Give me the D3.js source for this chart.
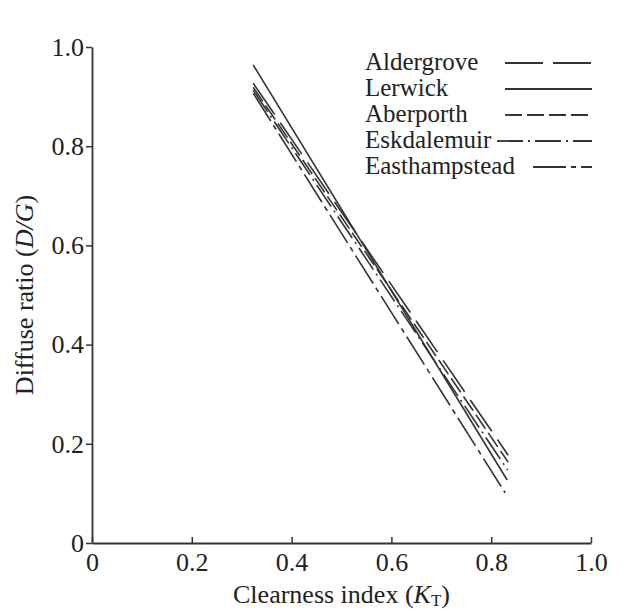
<!DOCTYPE html>
<html>
<head>
<meta charset="utf-8">
<script src="https://cdn.jsdelivr.net/npm/d3@7"></script>
<style>
  body { margin: 0; background: #fff; }
  text { font-family: "Liberation Serif", "DejaVu Serif", serif; fill: #222; }
</style>
</head>
<body>
<svg id="chart"></svg>
<script>
// stations and their fitted lines (D/G against K_T)
const stations = ["Aldergrove", "Lerwick", "Aberporth", "Eskdalemuir", "Easthampstead"];
const kStart = [0.323, 0.323, 0.323, 0.323, 0.323];
const kEnd = [0.834, 0.832, 0.834, 0.833, 0.828];
const dgStart = [0.927, 0.964, 0.919, 0.913, 0.907];
const dgEnd = [0.177, 0.127, 0.163, 0.147, 0.101];
const dashes = ["38,10", null, "17,5", "26,5,2,5", "33,5,5,5"];
const xTicks = [0, 0.2, 0.4, 0.6, 0.8, 1.0];
const yTicks = [0, 0.2, 0.4, 0.6, 0.8, 1.0];

const width = 624, height = 610;
const margin = {top: 47, left: 92, bottom: 67, right: 33};
const iwidth = width - margin.left - margin.right;
const iheight = height - margin.top - margin.bottom;

const svg = d3.select("#chart").attr("width", width).attr("height", height);
const g = svg.append("g").attr("transform", `translate(${margin.left},${margin.top})`);

const x = d3.scaleLinear().domain([0, 1]).range([0, iwidth]);
const y = d3.scaleLinear().domain([0, 1]).range([iheight, 0]);

const fmt = d => d === 0 ? "0" : d3.format(".1f")(d);

const xAxis = g.append("g")
  .attr("transform", `translate(0,${iheight})`)
  .call(d3.axisBottom(x).tickValues(xTicks).tickFormat(fmt).tickSizeInner(-6).tickSizeOuter(0).tickPadding(10));
const yAxis = g.append("g")
  .call(d3.axisLeft(y).tickValues(yTicks).tickFormat(fmt).tickSizeInner(6).tickSizeOuter(0).tickPadding(2));

[xAxis, yAxis].forEach(a => {
  a.select(".domain").attr("stroke", "#333").attr("stroke-width", 1.8);
  a.selectAll(".tick line").attr("stroke", "#333").attr("stroke-width", 1.5);
  a.selectAll(".tick text").attr("font-size", 26).attr("fill", "#222")
    .attr("font-family", "Liberation Serif, serif");
});

// series lines
const line = d3.line().x(d => x(d[0])).y(d => y(d[1]));
stations.forEach((s, i) => {
  g.append("path")
    .datum([[kStart[i], dgStart[i]], [kEnd[i], dgEnd[i]]])
    .attr("d", line)
    .attr("fill", "none")
    .attr("stroke", "#333")
    .attr("stroke-width", 1.6)
    .attr("stroke-dasharray", dashes[i]);
});

// legend
const legend = svg.append("g").attr("transform", "translate(365,63)");
const sampleStart = [140, 140, 140, 132, 168];
stations.forEach((s, i) => {
  const row = legend.append("g").attr("transform", `translate(0,${i * 26})`);
  row.append("text").attr("x", 0).attr("y", 7).attr("font-size", 25).text(s);
  row.append("line")
    .attr("x1", sampleStart[i]).attr("x2", 227).attr("y1", 0).attr("y2", 0)
    .attr("stroke", "#333").attr("stroke-width", 1.8)
    .attr("stroke-dasharray", dashes[i]);
});

// axis titles
const xt = svg.append("text")
  .attr("x", margin.left + iwidth / 2).attr("y", 603)
  .attr("text-anchor", "middle").attr("font-size", 26);
xt.append("tspan").text("Clearness index (");
xt.append("tspan").attr("font-style", "italic").text("K");
xt.append("tspan").attr("font-size", 17).attr("dy", 3).text("T");
xt.append("tspan").attr("dy", -3).text(")");

const yt = svg.append("text")
  .attr("transform", `translate(33,${margin.top + iheight / 2}) rotate(-90)`)
  .attr("text-anchor", "middle").attr("font-size", 26);
yt.append("tspan").text("Diffuse ratio (");
yt.append("tspan").attr("font-style", "italic").text("D/G");
yt.append("tspan").text(")");
</script>
</body>
</html>
